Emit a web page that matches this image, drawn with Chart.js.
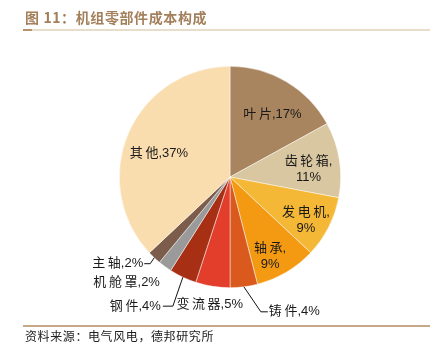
<!DOCTYPE html>
<html><head><meta charset="utf-8">
<script src="https://cdn.jsdelivr.net/npm/chart.js@4.4.1/dist/chart.umd.min.js"></script>
<style>
html,body{margin:0;padding:0;background:#fff;}
#wrap{position:relative;width:430px;height:358px;overflow:hidden;}
#title{position:absolute;left:25px;top:7px;font:bold 14px "Noto Sans CJK SC","Liberation Sans",sans-serif;color:#A3805B;letter-spacing:0.6px;white-space:nowrap;}
#topline{position:absolute;left:23px;top:29px;width:407px;height:2px;background:#E8DCCB;}
#topline2{position:absolute;left:23px;top:29px;width:9px;height:2px;background:#B8926A;}
#botline{position:absolute;left:23px;top:325px;width:407px;height:2px;background:#C4A888;}
#source{position:absolute;left:25px;top:327px;font:12px "Noto Sans CJK SC",sans-serif;color:#222;letter-spacing:0.6px;white-space:nowrap;}
canvas{position:absolute;left:0;top:0;}
</style></head>
<body><div id="wrap">
<canvas id="c" width="430" height="358"></canvas>
<div id="title">图 11：机组零部件成本构成</div>
<div id="topline"></div><div id="topline2"></div>
<div id="botline"></div>
<div id="source">资料来源：电气风电，德邦研究所</div>
</div>
<script>
const categories = ['叶片','齿轮箱','发电机','轴承','铸件','变流器','钢件','机舱罩','主轴','其他'];
const shares = [17, 11, 9, 9, 4, 5, 4, 2, 2, 37];
const colors = ['#A8845F','#D8C7A0','#F4B836','#F39A12','#D95A1C','#E33D2C','#A62F14','#9A9A9A','#7C5C4B','#FADDAF'];

// label placement styles (not data)
const labelStyle = [
  {mode:'in', f:0.70, dx:3, dy:4, lines:1},
  {mode:'in', f:0.70, dx:2, dy:5, lines:2},
  {mode:'in', f:0.78, dx:-1, dy:4, lines:2},
  {mode:'in', f:0.80, dx:-5, dy:3, lines:2},
  {mode:'out', path:[[17,25],[24,25]], tx:25, ty:25, align:'left'},
  {mode:'near', tx:-3, ty:18, align:'center'},
  {mode:'out', path:[[-10,29],[-20,29]], tx:-22, ty:29, align:'right'},
  {mode:'near', tx:-5, ty:16, align:'right'},
  {mode:'out', path:[[-4,6],[-10,6]], tx:-11, ty:6, align:'right'},
  {mode:'in', f:0.68, dx:-2, dy:6, lines:1}
];

const FONT = '13px "Liberation Sans","Noto Sans CJK SC",sans-serif';

const labelPlugin = {
  id:'pieLabels',
  afterDatasetsDraw(chart){
    const ctx = chart.ctx;
    const meta = chart.getDatasetMeta(0);
    ctx.save();
    ctx.font = FONT;
    ctx.fillStyle = '#1a1a1a';
    ctx.strokeStyle = '#111';
    ctx.lineWidth = 1;
    ctx.textBaseline = 'middle';
    meta.data.forEach((arc, i) => {
      const p = arc.getProps(['x','y','startAngle','endAngle','outerRadius'], true);
      const mid = (p.startAngle + p.endAngle) / 2;
      const st = labelStyle[i];
      const name = categories[i];
      const val = shares[i] + '%';
      if (st.mode === 'in') {
        const cx = p.x + Math.cos(mid) * p.outerRadius * st.f + st.dx;
        const cy = p.y + Math.sin(mid) * p.outerRadius * st.f + st.dy;
        ctx.textAlign = 'center';
        if (st.lines === 1) {
          ctx.fillText(spaced(name) + ',' + val, cx, cy);
        } else {
          ctx.fillText(spaced(name) + ',', cx, cy - 8);
          ctx.fillText(val, cx, cy + 8);
        }
      } else {
        const ax = p.x + Math.cos(mid) * p.outerRadius;
        const ay = p.y + Math.sin(mid) * p.outerRadius;
        if (st.mode === 'out') {
          ctx.beginPath();
          ctx.moveTo(ax, ay);
          st.path.forEach(q => ctx.lineTo(ax + q[0], ay + q[1]));
          ctx.stroke();
        }
        ctx.textAlign = st.align;
        ctx.fillText(spaced(name) + ',' + val, ax + st.tx, ay + st.ty);
      }
    });
    ctx.restore();
  }
};
function spaced(s){ return s.split('').join('\u2009'); }

new Chart(document.getElementById('c'), {
  type:'pie',
  data:{ labels:categories, datasets:[{ data:shares, backgroundColor:colors, borderColor:'rgba(255,255,255,0.8)', borderWidth:0.6 }]},
  options:{
    responsive:false, animation:false,
    layout:{ padding:{ top:66, bottom:70, left:119, right:89 } },
    plugins:{ legend:{display:false}, tooltip:{enabled:false}, title:{display:false} }
  },
  plugins:[labelPlugin]
});
</script>
</body></html>
